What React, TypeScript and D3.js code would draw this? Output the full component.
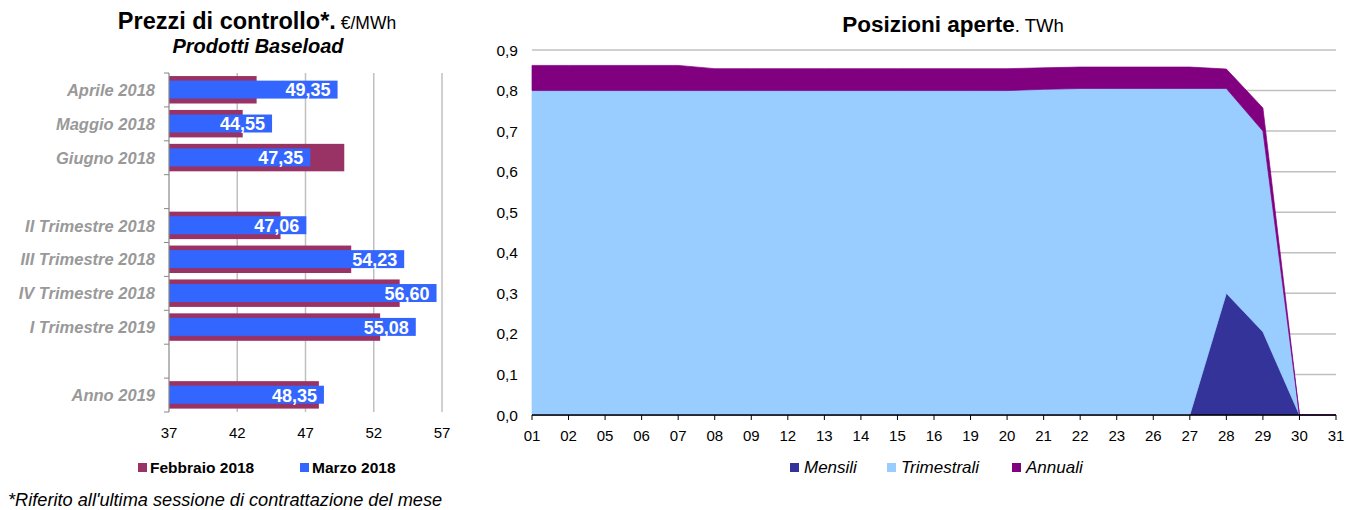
import React from "react";
import * as d3 from "d3";

// ---- Left chart data ----
const leftCategories = ["Aprile 2018", "Maggio 2018", "Giugno 2018", "", "II Trimestre 2018", "III Trimestre 2018", "IV Trimestre 2018", "I Trimestre 2019", " ", "Anno 2019"];
const febbraio: (number | null)[] = [43.42, 42.4, 49.84, null, 45.17, 50.35, 53.9, 52.47, null, 47.98];
const marzo: (number | null)[] = [49.35, 44.55, 47.35, null, 47.06, 54.23, 56.6, 55.08, null, 48.35];
const leftTicks = [37, 42, 47, 52, 57];
const leftSeriesNames = ["Febbraio 2018", "Marzo 2018"];

// ---- Right chart data ----
const days = ["01", "02", "05", "06", "07", "08", "09", "12", "13", "14", "15", "16", "19", "20", "21", "22", "23", "26", "27", "28", "29", "30", "31"];
const mensili = [0, 0, 0, 0, 0, 0, 0, 0, 0, 0, 0, 0, 0, 0, 0, 0, 0, 0, 0, 0.3, 0.205, 0, 0];
const trimestrali = [0.8, 0.8, 0.8, 0.8, 0.8, 0.8, 0.8, 0.8, 0.8, 0.8, 0.8, 0.8, 0.8, 0.8, 0.803, 0.805, 0.805, 0.805, 0.805, 0.505, 0.495, 0, 0];
const annuali = [0.062, 0.062, 0.062, 0.062, 0.062, 0.054, 0.054, 0.054, 0.054, 0.054, 0.054, 0.054, 0.054, 0.054, 0.053, 0.053, 0.053, 0.053, 0.053, 0.048, 0.057, 0, 0];
const rightTicks = [0, 0.1, 0.2, 0.3, 0.4, 0.5, 0.6, 0.7, 0.8, 0.9];
const rightSeriesNames = ["Mensili", "Trimestrali", "Annuali"];

const FONT = "'Liberation Sans', Arial, sans-serif";
const PURPLE_BAR = "#993366";
const BLUE_BAR = "#3366FF";
const COL_M = "#333399";
const COL_T = "#99CCFF";
const COL_A = "#800080";

const fmt = (v: number) => v.toFixed(2).replace(".", ",");

export default function App() {
  // Left scales
  const lx = d3.scaleLinear().domain([37, 57]).range([169, 442]);
  const ly = d3.scaleBand<number>().domain(leftCategories.map((_, i) => i)).range([73, 412]).padding(0);
  const bw = ly.bandwidth();

  // Right scales
  const rx = d3.scalePoint<string>().domain(days).range([532, 1336]).padding(0);
  const ry = d3.scaleLinear().domain([0, 0.9]).range([415, 50]);
  const rows = days.map((d, i) => ({ day: d, Mensili: mensili[i], Trimestrali: trimestrali[i], Annuali: annuali[i] }));
  const stack = d3.stack<any>().keys(rightSeriesNames)(rows);
  const area = d3
    .area<any>()
    .x((d: any) => rx(d.data.day) as number)
    .y0((d: any) => ry(d[0]))
    .y1((d: any) => ry(d[1]));
  const colors = [COL_M, COL_T, COL_A];

  return (
    <svg width={1346} height={510} style={{ position: "absolute", left: 0, top: 0 }} fontFamily={FONT}>
      <rect x={0} y={0} width={1346} height={510} fill="#fff" />

      {/* ===== Left chart ===== */}
      <text x={257} y={29} textAnchor="middle" fill="#000">
        <tspan fontWeight="bold" fontSize={23.5}>Prezzi di controllo*.</tspan>
        <tspan fontSize={17.5}> €/MWh</tspan>
      </text>
      <text x={258} y={53} textAnchor="middle" fontWeight="bold" fontStyle="italic" fontSize={20} fill="#000">
        Prodotti Baseload
      </text>

      {leftTicks.slice(1).map((t) => (
        <line key={t} x1={lx(t)} x2={lx(t)} y1={73} y2={412} stroke="#c0c0c0" strokeWidth={1.5} />
      ))}

      {leftCategories.map((c, i) => {
        const y0 = ly(i) as number;
        const f = febbraio[i];
        const m = marzo[i];
        return (
          <g key={i}>
            {f != null && (
              <rect x={lx(37)} y={y0 + bw * 0.09} width={lx(f) - lx(37)} height={bw * 0.81} fill={PURPLE_BAR} />
            )}
            {m != null && (
              <rect x={lx(37)} y={y0 + bw * 0.225} width={lx(m) - lx(37)} height={bw * 0.53} fill={BLUE_BAR} />
            )}
            {m != null && (
              <text x={lx(m) - 7} y={y0 + bw / 2 + 6.5} textAnchor="end" fill="#fff" fontWeight="bold" fontSize={18}>
                {fmt(m)}
              </text>
            )}
            {c.trim() !== "" && (
              <text x={155} y={y0 + bw / 2 + 6} textAnchor="end" fill="#999999" fontWeight="bold" fontStyle="italic" fontSize={16.5}>
                {c}
              </text>
            )}
          </g>
        );
      })}
      {/* left axis */}
      <line x1={lx(37)} x2={lx(37)} y1={73} y2={412} stroke="#888" strokeWidth={1.2} />
      {leftCategories.map((_, i) => (
        <line key={i} x1={164} x2={lx(37)} y1={ly(i) as number} y2={ly(i) as number} stroke="#888" strokeWidth={1} />
      ))}
      <line x1={164} x2={lx(37)} y1={412} y2={412} stroke="#888" strokeWidth={1} />
      {leftTicks.map((t) => (
        <text key={t} x={lx(t)} y={438} textAnchor="middle" fontSize={15} fill="#000">
          {t}
        </text>
      ))}

      {/* left legend */}
      <rect x={138} y={463} width={9} height={9} fill={PURPLE_BAR} />
      <text x={150} y={473} fontWeight="bold" fontSize={15.5} fill="#000">{leftSeriesNames[0]}</text>
      <rect x={300} y={463} width={9} height={9} fill={BLUE_BAR} />
      <text x={312} y={473} fontWeight="bold" fontSize={15.5} fill="#000">{leftSeriesNames[1]}</text>

      <text x={8} y={506} fontStyle="italic" fontSize={18.2} fill="#000">
        *Riferito all'ultima sessione di contrattazione del mese
      </text>

      {/* ===== Right chart ===== */}
      <text x={953} y={32} textAnchor="middle" fill="#000">
        <tspan fontWeight="bold" fontSize={22.5}>Posizioni aperte</tspan>
        <tspan fontSize={18.5}>. TWh</tspan>
      </text>

      {rightTicks.slice(1).map((t) => (
        <line key={t} x1={532} x2={1336} y1={ry(t)} y2={ry(t)} stroke="#c0c0c0" strokeWidth={1.5} />
      ))}
      {rightTicks.map((t) => (
        <text key={t} x={518} y={ry(t) + 5.5} textAnchor="end" fontSize={15.5} fill="#000">
          {t.toFixed(1).replace(".", ",")}
        </text>
      ))}

      {stack.map((s, i) => (
        <path key={s.key} d={area(s as any) || ""} fill={colors[i]} stroke={colors[i]} strokeWidth={0.7} />
      ))}

      <line x1={532} x2={1336} y1={415} y2={415} stroke="#000" strokeWidth={1.5} />
      {days.map((d) => (
        <g key={d}>
          <line x1={rx(d)} x2={rx(d)} y1={415} y2={420} stroke="#000" strokeWidth={1} />
          <text x={rx(d)} y={441} textAnchor="middle" fontSize={15} fill="#000">
            {d}
          </text>
        </g>
      ))}

      {/* right legend */}
      {[
        { x: 790, name: rightSeriesNames[0], c: COL_M },
        { x: 887, name: rightSeriesNames[1], c: COL_T },
        { x: 1012, name: rightSeriesNames[2], c: COL_A },
      ].map((l) => (
        <g key={l.name}>
          <rect x={l.x} y={463} width={9} height={9} fill={l.c} />
          <text x={l.x + 14} y={473} fontStyle="italic" fontSize={17} fill="#000">
            {l.name}
          </text>
        </g>
      ))}
    </svg>
  );
}
